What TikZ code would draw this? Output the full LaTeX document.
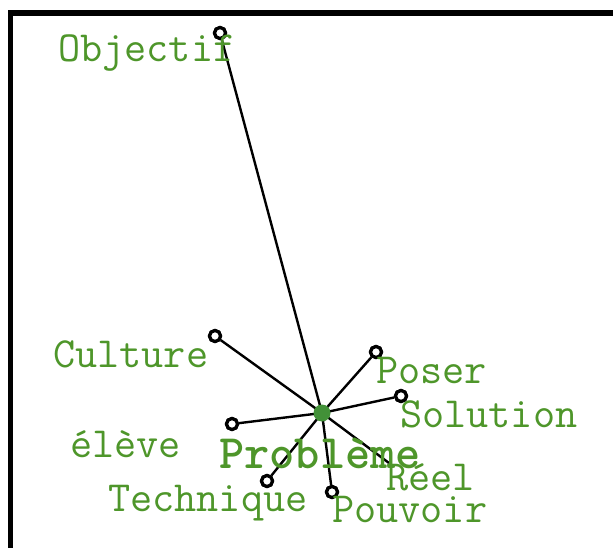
\documentclass[tikz,border=0pt]{standalone}
\usepackage{fontspec}
\usepackage{tikz}
\usetikzlibrary{positioning}
\definecolor{leafgreen}{RGB}{78,150,42}
\definecolor{hubgreen}{RGB}{66,145,56}

\begin{document}
\begin{tikzpicture}[x=1pt, y=-1pt,
    word/.style={text=leafgreen, inner sep=0pt, anchor=base west,
      font=\ttfamily\fontsize{43}{46}\selectfont},
    hubword/.style={word, font=\ttfamily\bfseries\fontsize{48}{52}\selectfont},
    leaf/.style={circle, draw=black, fill=white, line width=3.2pt,
      inner sep=0pt, minimum size=11pt},
    hub/.style={circle, fill=hubgreen, inner sep=0pt, minimum size=17pt},
    spoke/.style={line width=2.4pt}]
           \useasboundingbox (0,0) rectangle (613,548);
           \draw[line width=5.5pt] (640,13) -- (10.5,13) -- (10.5,560);
           \coordinate (Prob) at (322,413);
           \node[leaf] (Obj) at (220,33) {};
           \node[leaf] (Cult) at (215,336) {};
           \node[leaf] (Pos) at (376,352) {};
           \node[leaf] (Sol) at (401,396) {};
           \node[leaf] (Elv) at (232,424) {};
           \node[leaf] (Tech) at (267,481) {};
           \node[leaf] (Pouv) at (332,492) {};
           \coordinate (Reel) at (389,463);
           \foreach \n in {Obj,Cult,Pos,Sol,Elv,Tech,Pouv,Reel}
             \draw[spoke] (Prob) -- (\n);
           \foreach \n in {Obj,Cult,Pos,Sol,Elv,Tech,Pouv}
             \node[leaf] at (\n) {};
           \node[hub] (ProbDot) at (Prob) {};
           \node[word] (ObjT) at (58,62) {Objectif};
           \node[word] (CultT) at (53,367) {Culture};
           \node[word] (PosT) at (376,383) {Poser};
           \node[word] (SolT) at (400,427) {Solution};
           \node[word] (ElvT) at (70,457) {élève};
           \node[word] (ReelT) at (386,490) {Réel};
           \node[word] (TechT) at (108,511) {Technique};
           \node[word] (PouvT) at (332,522) {Pouvoir};
           \node[hubword] (ProbT) at (219,468) {Problème};
      \end{tikzpicture}
\end{document}
